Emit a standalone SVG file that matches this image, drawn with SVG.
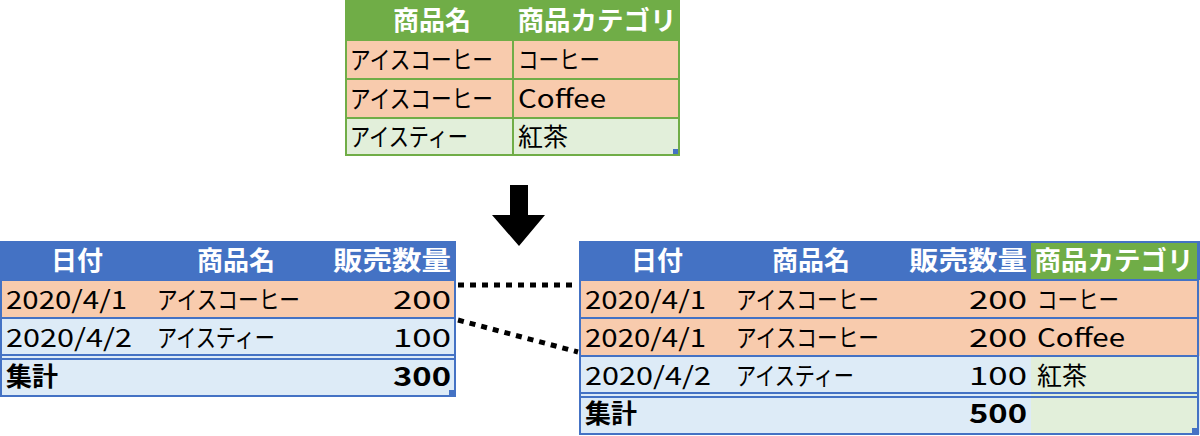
<svg xmlns="http://www.w3.org/2000/svg" width="1200" height="436" viewBox="0 0 1200 436">
<style>
text{font-family:"Noto Sans CJK JP","Noto Sans",sans-serif;font-size:25px;fill:#000}
.h{fill:#fff;font-weight:bold;font-size:26px}
.b{font-weight:bold;font-size:26px}
.or{fill:#f8cbad}.lb{fill:#ddebf7}.lg{fill:#e2efda}.bl{fill:#4472c4}.gr{fill:#70ad47}
.r{text-anchor:end}.m{text-anchor:middle}
</style>
<rect width="1200" height="436" fill="#fff"/>
<g id="top-table">
<rect x="345" y="0" width="335" height="40" class="gr"/>
<rect x="345" y="40" width="335" height="78" class="or"/>
<rect x="345" y="118" width="335" height="38" class="lg"/>
<g stroke="#70ad47" stroke-width="2" fill="none">
<rect x="346" y="1" width="333" height="154"/>
<line x1="346" y1="40" x2="679" y2="40"/><line x1="346" y1="79" x2="679" y2="79"/><line x1="346" y1="118" x2="679" y2="118"/>
<line x1="513" y1="40" x2="513" y2="155"/>
</g>
<rect x="673" y="149" width="5" height="5" fill="#4472c4"/>
<text x="432" y="30" class="h m">商品名</text>
<text x="597" y="30" class="h m" textLength="159" lengthAdjust="spacingAndGlyphs">商品カテゴリ</text>
<text x="350" y="69" textLength="143" lengthAdjust="spacingAndGlyphs">アイスコーヒー</text><text x="518" y="69" textLength="82" lengthAdjust="spacingAndGlyphs">コーヒー</text>
<text x="350" y="108" textLength="143" lengthAdjust="spacingAndGlyphs">アイスコーヒー</text><text x="518" y="108" textLength="88" lengthAdjust="spacingAndGlyphs">Coffee</text>
<text x="350" y="146" textLength="118" lengthAdjust="spacingAndGlyphs">アイスティー</text><text x="518" y="146">紅茶</text>
</g>
<g id="arrow"><polygon points="510,185 528,185 528,215 545,215 519,246 492,215 510,215" fill="#000"/></g>
<g id="left-table">
<rect x="0" y="241" width="456" height="39" class="bl"/>
<rect x="0" y="280" width="456" height="38" class="or"/>
<rect x="0" y="318" width="456" height="78" class="lb"/>
<g stroke="#4472c4" stroke-width="2" fill="none">
<rect x="1" y="242" width="454" height="154"/>
<line x1="1" y1="280" x2="455" y2="280"/><line x1="1" y1="318" x2="455" y2="318"/>
<line x1="1" y1="355" x2="455" y2="355"/><line x1="1" y1="359" x2="455" y2="359"/>
</g>
<rect x="449" y="390" width="5" height="5" fill="#4472c4"/>
<text x="77" y="270" class="h m">日付</text><text x="236" y="270" class="h m">商品名</text><text x="451" y="270" class="h r" textLength="118" lengthAdjust="spacingAndGlyphs">販売数量</text>
<text x="6" y="309" textLength="121" lengthAdjust="spacingAndGlyphs">2020/4/1</text><text x="157" y="309" textLength="143" lengthAdjust="spacingAndGlyphs">アイスコーヒー</text><text x="451" y="309" class="r" textLength="58" lengthAdjust="spacingAndGlyphs">200</text>
<text x="6" y="347" textLength="126" lengthAdjust="spacingAndGlyphs">2020/4/2</text><text x="157" y="347" textLength="118" lengthAdjust="spacingAndGlyphs">アイスティー</text><text x="451" y="347" class="r" textLength="58" lengthAdjust="spacingAndGlyphs">100</text>
<text x="6" y="386" class="b">集計</text><text x="451" y="386" class="b r" textLength="58" lengthAdjust="spacingAndGlyphs">300</text>
</g>
<g id="right-table">
<rect x="579" y="241" width="621" height="39" class="bl"/>
<rect x="1031" y="243" width="166" height="37" class="gr"/>
<rect x="579" y="280" width="621" height="76" class="or"/>
<rect x="579" y="356" width="621" height="78" class="lb"/>
<rect x="1031" y="356" width="167" height="78" class="lg"/>
<g stroke="#4472c4" stroke-width="2" fill="none">
<rect x="580" y="242" width="618" height="192"/>
<line x1="580" y1="280" x2="1198" y2="280"/><line x1="580" y1="318" x2="1198" y2="318"/><line x1="580" y1="356" x2="1198" y2="356"/>
<line x1="580" y1="393" x2="1198" y2="393"/><line x1="580" y1="397" x2="1198" y2="397"/>
</g>
<rect x="1192" y="428" width="5" height="5" fill="#4472c4"/>
<text x="657" y="270" class="h m">日付</text><text x="811" y="270" class="h m">商品名</text><text x="1027" y="270" class="h r" textLength="118" lengthAdjust="spacingAndGlyphs">販売数量</text><text x="1114" y="270" class="h m" textLength="159" lengthAdjust="spacingAndGlyphs">商品カテゴリ</text>
<text x="585" y="309" textLength="121" lengthAdjust="spacingAndGlyphs">2020/4/1</text><text x="736" y="309" textLength="143" lengthAdjust="spacingAndGlyphs">アイスコーヒー</text><text x="1027" y="309" class="r" textLength="58" lengthAdjust="spacingAndGlyphs">200</text><text x="1037" y="309" textLength="82" lengthAdjust="spacingAndGlyphs">コーヒー</text>
<text x="585" y="347" textLength="121" lengthAdjust="spacingAndGlyphs">2020/4/1</text><text x="736" y="347" textLength="143" lengthAdjust="spacingAndGlyphs">アイスコーヒー</text><text x="1027" y="347" class="r" textLength="58" lengthAdjust="spacingAndGlyphs">200</text><text x="1037" y="347" textLength="88" lengthAdjust="spacingAndGlyphs">Coffee</text>
<text x="585" y="385" textLength="126" lengthAdjust="spacingAndGlyphs">2020/4/2</text><text x="736" y="385" textLength="118" lengthAdjust="spacingAndGlyphs">アイスティー</text><text x="1027" y="385" class="r" textLength="58" lengthAdjust="spacingAndGlyphs">100</text><text x="1037" y="385">紅茶</text>
<text x="585" y="423" class="b">集計</text><text x="1027" y="423" class="b r" textLength="58" lengthAdjust="spacingAndGlyphs">500</text>
</g>
<g id="connectors" stroke="#000" stroke-width="5" stroke-dasharray="6,6" fill="none">
<line x1="458" y1="285" x2="578" y2="285"/>
<line x1="458" y1="320" x2="578" y2="352"/>
</g>
</svg>
